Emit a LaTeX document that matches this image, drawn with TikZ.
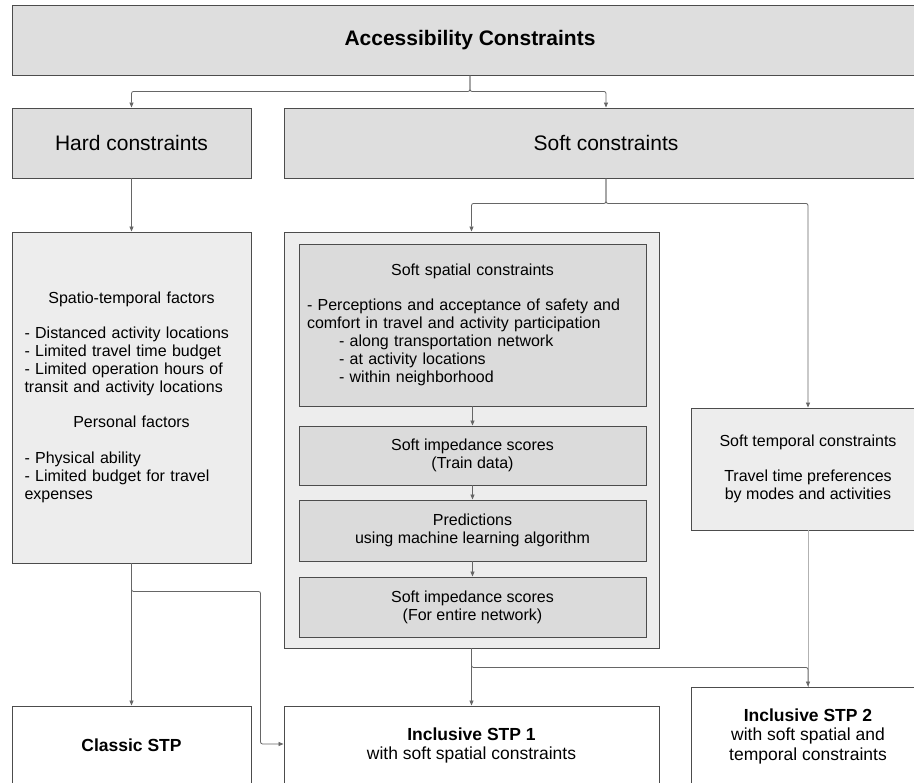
\documentclass[tikz,border=0pt]{standalone}
\usepackage{fontspec}
\setmainfont{Liberation Sans}
\usetikzlibrary{arrows.meta}

\begin{document}
\begin{tikzpicture}[x=1pt,y=-1pt,
  hdrbox/.style={draw=black!70,line width=0.9pt,fill=black!13,inner sep=0pt,font=\fontsize{21}{24}\selectfont},
  factbox/.style={draw=black!70,line width=0.9pt,fill=black!7,inner sep=0pt,font=\fontsize{16}{18}\selectfont},
  stepbox/.style={draw=black!70,line width=0.9pt,fill=black!14,inner sep=0pt,font=\fontsize{16}{18}\selectfont,align=center},
  stpbox/.style={draw=black!70,line width=0.9pt,fill=white,inner sep=0pt,font=\fontsize{17.5}{19.5}\selectfont,align=center},
  conn/.style={-{Triangle[length=5pt,width=4pt]},draw=black!60,line width=0.8pt,rounded corners=2pt}]

\useasboundingbox (0,0) rectangle (914,783);
\fill[white] (0,0) rectangle (914,783);

% Top node
\node[hdrbox,minimum width=916,minimum height=70,font=\fontsize{21}{24}\selectfont\bfseries] (title) at (470,40) {Accessibility Constraints};

% Constraint types
\node[hdrbox,minimum width=239,minimum height=70] (hard) at (131.5,143) {Hard constraints};
\node[hdrbox,minimum width=644,minimum height=70] (soft) at (606,143) {Soft constraints};

% Hard factors
\node[factbox,minimum width=239,minimum height=331,text width=214,align=left] (hardfac) at (131.5,397.5)
  {\hspace*{\fill}Spatio-temporal factors\hspace*{\fill}\mbox{}\\[17pt]
   - Distanced activity locations\\
   - Limited travel time budget\\
   - Limited operation hours of\\
   transit and activity locations\\[17pt]
   \hspace*{\fill}Personal factors\hspace*{\fill}\mbox{}\\[18pt]
   - Physical ability\\
   - Limited budget for travel\\
   expenses};

% Soft spatial group
\node[factbox,minimum width=375,minimum height=416] (spatialgrp) at (471.5,440) {};
\node[stepbox,minimum width=347,minimum height=162,text width=331,align=left] (spatial) at (472.5,325)
  {\hspace*{\fill}Soft spatial constraints\hspace*{\fill}\mbox{}\\[17pt]
   - Perceptions and acceptance of safety and\\
   comfort in travel and activity participation\\
   \hspace*{32pt}- along transportation network\\
   \hspace*{32pt}- at activity locations\\
   \hspace*{32pt}- within neighborhood};
\node[stepbox,minimum width=347,minimum height=59] (imptrain) at (472.5,455.5) {Soft impedance scores\\(Train data)};
\node[stepbox,minimum width=347,minimum height=61] (predict) at (472.5,530.5) {Predictions\\using machine learning algorithm};
\node[stepbox,minimum width=347,minimum height=60] (impall) at (472.5,607) {Soft impedance scores\\(For entire network)};

% Soft temporal
\node[factbox,minimum width=234,minimum height=122,align=center] (temporal) at (808,469)
  {Soft temporal constraints\\[17pt]Travel time preferences\\by modes and activities};

% Outputs
\node[stpbox,minimum width=239,minimum height=78] (classic) at (131.5,745) {\bfseries Classic STP};
\node[stpbox,minimum width=375,minimum height=79] (stp1) at (471.5,745.5) {\bfseries Inclusive STP 1\\with soft spatial constraints};
\node[stpbox,minimum width=234,minimum height=98] (stp2) at (808,736) {\bfseries Inclusive STP 2\\with soft spatial and\\temporal constraints};

% Connections
\draw[conn] (title.south) -- ++(0,16) -| (hard.north);
\draw[conn] (title.south) -- ++(0,16) -| (soft.north);
\draw[conn] (hard.south) -- (hardfac.north);
\draw[conn] (soft.south) -- ++(0,25) -| (spatialgrp.north);
\draw[conn] (soft.south) -- ++(0,25) -| (temporal.north);
\draw[conn] (spatial.south) -- (imptrain.north);
\draw[conn] (imptrain.south) -- (predict.north);
\draw[conn] (predict.south) -- (impall.north);
\draw[black!30,line width=0.8pt] (temporal.south) -- (stp2.north);
\draw[conn] (spatialgrp.south) -- (stp1.north);
\draw[conn] (spatialgrp.south) -- ++(0,19) -| (stp2.north);
\draw[conn] (hardfac.south) -- (classic.north);
\draw[conn] (hardfac.south) -- ++(0,28) -| ([xshift=-23pt,yshift=1.5pt]stp1.west) -- ([yshift=1.5pt]stp1.west);

\end{tikzpicture}
\end{document}
